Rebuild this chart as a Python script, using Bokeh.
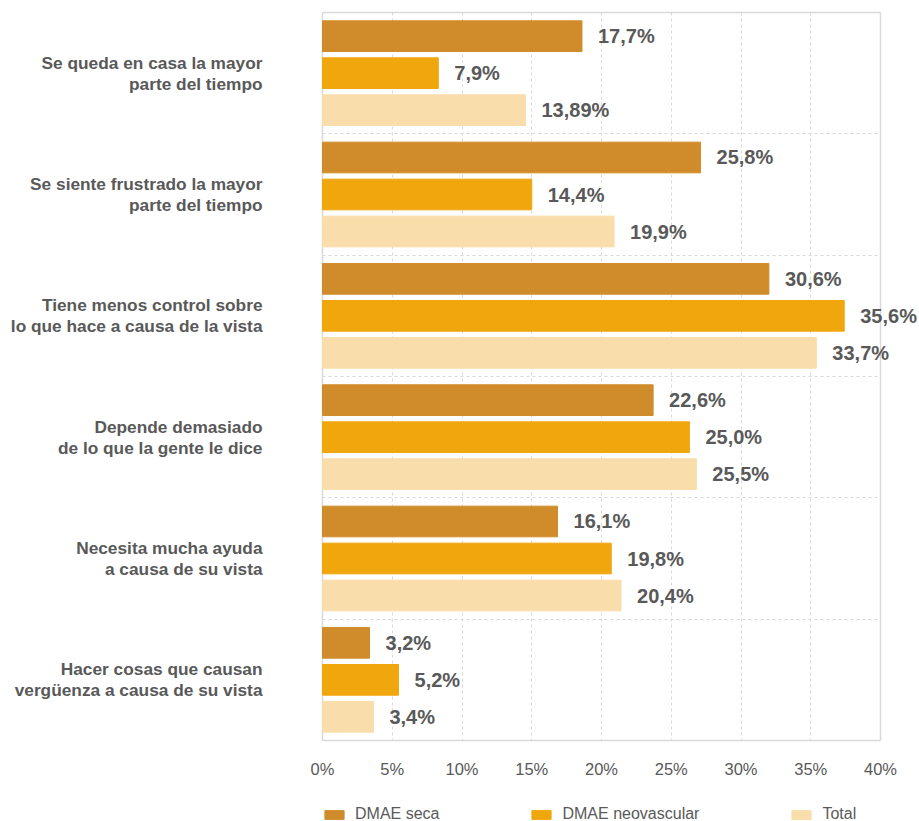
from bokeh.plotting import figure
from bokeh.layouts import column
from bokeh.models import Range1d, FixedTicker, Legend, LegendItem, ColumnDataSource, Grid
from bokeh.core.properties import value
from bokeh.embed import file_html
from bokeh.resources import INLINE

categories = [
    "Se queda en casa la mayor\nparte del tiempo",
    "Se siente frustrado la mayor\nparte del tiempo",
    "Tiene menos control sobre\nlo que hace a causa de la vista",
    "Depende demasiado\nde lo que la gente le dice",
    "Necesita mucha ayuda\na causa de su vista",
    "Hacer cosas que causan\nvergüenza a causa de su vista",
]
series_names = ["DMAE seca", "DMAE neovascular", "Total"]

# bar lengths as drawn against the axis
seca_bar = [18.6, 27.1, 32.0, 23.7, 16.85, 3.37]
neo_bar = [8.3, 15.0, 37.4, 26.3, 20.7, 5.45]
total_bar = [14.55, 20.9, 35.4, 26.8, 21.4, 3.65]

# printed data labels
seca_lbl = [17.7, 25.8, 30.6, 22.6, 16.1, 3.2]
neo_lbl = [7.9, 14.4, 35.6, 25.0, 19.8, 5.2]
total_lbl = [13.89, 19.9, 33.7, 25.5, 20.4, 3.4]

x_ticks = [0, 5, 10, 15, 20, 25, 30, 35, 40]

colors = ["#D08C2B", "#F0A60D", "#F9DDAB"]
TXT = "#595959"
BORDER = "#D9D9D9"
FONT = "Liberation Sans"

AX_MAX = x_ticks[-1]
N = len(categories)

# geometry (pixels)
PX_X = 558 / AX_MAX          # pixels per percent
PX_Y = 728 / N               # pixels per category band
PAD = 2                      # frame padding so border lines are not clipped
RIGHT_EXTRA = 39             # room for labels beyond the 40% border

p = figure(width=919, height=790, output_backend="svg", toolbar_location=None,
           x_range=Range1d(-PAD / PX_X, AX_MAX + RIGHT_EXTRA / PX_X),
           y_range=Range1d(N + PAD / PX_Y, -PAD / PX_Y),
           frame_width=558 + PAD + RIGHT_EXTRA, frame_height=728 + 2 * PAD,
           min_border_left=322 - PAD, min_border_right=0, min_border_top=12 - PAD,
           min_border_bottom=48)
p.outline_line_color = None

offsets = [-0.305, 0.0, 0.305]
bar_h = 0.253

# dashed grids (limited to the 0-40 area)
p.xgrid.ticker = FixedTicker(ticks=x_ticks[1:-1])
p.xgrid.grid_line_color = BORDER
p.xgrid.grid_line_dash = "3 3"
p.xgrid.cross_bounds = (0, N)
p.ygrid.ticker = FixedTicker(ticks=list(range(1, N)))
p.ygrid.grid_line_color = BORDER
p.ygrid.grid_line_dash = "3 3"
p.ygrid.cross_bounds = (0, AX_MAX)

# solid plot-area border drawn as grids at the range limits
p.add_layout(Grid(dimension=0, ticker=FixedTicker(ticks=[0, AX_MAX]), cross_bounds=(0, N),
                  grid_line_color=BORDER, grid_line_width=1.5))
p.add_layout(Grid(dimension=1, ticker=FixedTicker(ticks=[0, N]), cross_bounds=(0, AX_MAX),
                  grid_line_color=BORDER, grid_line_width=1.5))

sources = []
for s, (bars, lbls, col) in enumerate(zip([seca_bar, neo_bar, total_bar],
                                           [seca_lbl, neo_lbl, total_lbl], colors)):
    ys = [i + 0.5 + offsets[s] for i in range(N)]
    src = ColumnDataSource(dict(y=ys, right=bars,
                                txt=[str(v).replace(".", ",") + "%" for v in lbls]))
    sources.append(src)
    p.hbar(y="y", left=0, right="right", height=bar_h, color=col, source=src)
    p.text(x="right", y="y", text="txt", source=src, x_offset=16,
           text_baseline="middle", text_align="left",
           text_font=value(FONT), text_font_style="bold",
           text_font_size="20px", text_color=TXT)

# y axis: category labels
p.yaxis.ticker = FixedTicker(ticks=[i + 0.5 for i in range(N)])
p.yaxis.major_label_overrides = {i + 0.5: c for i, c in enumerate(categories)}
p.yaxis.axis_line_color = None
p.yaxis.major_tick_line_color = None
p.yaxis.minor_tick_line_color = None
p.yaxis.major_label_standoff = 54 - PAD
p.yaxis.major_label_text_font = FONT
p.yaxis.major_label_text_font_style = "bold"
p.yaxis.major_label_text_font_size = "17.3px"
p.yaxis.major_label_text_line_height = 1.05
p.yaxis.major_label_text_color = TXT

# x axis
p.xaxis.ticker = FixedTicker(ticks=x_ticks)
p.xaxis.major_label_overrides = {t: f"{t}%" for t in x_ticks}
p.xaxis.axis_line_color = None
p.xaxis.major_tick_line_color = None
p.xaxis.minor_tick_line_color = None
p.xaxis.major_label_standoff = 11
p.xaxis.major_label_text_font = FONT
p.xaxis.major_label_text_font_size = "16.5px"
p.xaxis.major_label_text_color = TXT

# legend strip underneath (its range keeps the series' bars out of view,
# only the legend swatches and labels show)
lf = figure(width=919, height=31, output_backend="svg", toolbar_location=None,
            x_axis_location=None, y_axis_location=None, min_border=0,
            x_range=Range1d(-2, -1), y_range=Range1d(0, 1))
lf.outline_line_color = None
lf.grid.visible = False
items = []
for src, col, name in zip(sources, colors, series_names):
    r = lf.hbar(y="y", left=0, right="right", height=bar_h, color=col, source=src)
    items.append(LegendItem(label=name, renderers=[r]))
legend = Legend(items=items, orientation="horizontal", location=(PAD, -3),
                label_text_font=FONT, label_text_font_size="16px",
                label_text_color=TXT, glyph_width=24, glyph_height=11,
                label_height=20, label_standoff=9, spacing=90, padding=0, margin=0,
                border_line_color=None, background_fill_alpha=0)
lf.add_layout(legend, "center")

layout = column(p, lf, spacing=0)
open("out.html", "w").write(file_html(layout, INLINE))
